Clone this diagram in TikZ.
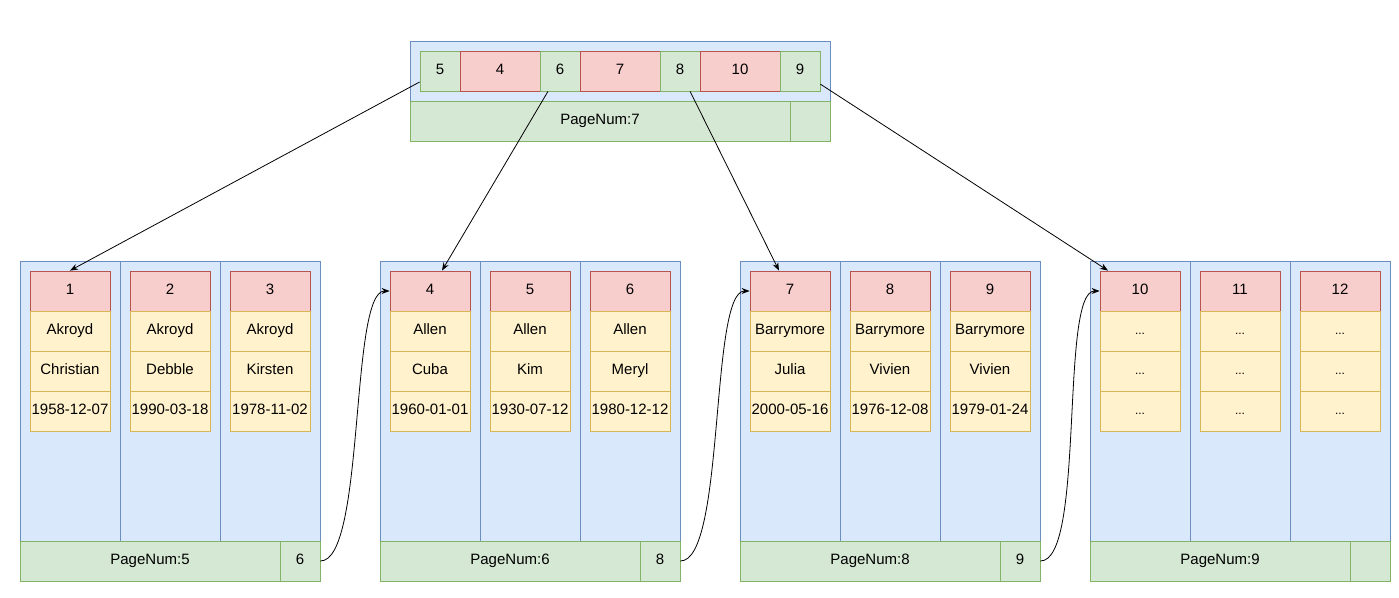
\documentclass[tikz,border=0pt]{standalone}
\usepackage{fontspec}
\setmainfont{Liberation Sans}
\usepackage{xcolor}
\usepackage{tikz}
\usetikzlibrary{arrows.meta}

\definecolor{bluefill}{HTML}{DAE8FC}
\definecolor{blueline}{HTML}{6C8EBF}
\definecolor{redfill}{HTML}{F8CECC}
\definecolor{redline}{HTML}{B85450}
\definecolor{yellowfill}{HTML}{FFF2CC}
\definecolor{yellowline}{HTML}{D6B656}
\definecolor{greenfill}{HTML}{D5E8D4}
\definecolor{greenline}{HTML}{82B366}

\tikzset{
  cell/.style={line width=0.8pt, inner sep=0pt, text height=0.8em, text depth=0.08em},
  colbox/.style={cell, draw=blueline, fill=bluefill, minimum width=100pt, minimum height=280pt},
  topbox/.style={cell, draw=blueline, fill=bluefill, minimum width=420pt, minimum height=60pt},
  keycell/.style={cell, draw=redline, fill=redfill, minimum width=80pt, minimum height=40pt},
  datacell/.style={cell, draw=yellowline, fill=yellowfill, minimum width=80pt, minimum height=40pt},
  numcell/.style={cell, draw=greenline, fill=greenfill, minimum width=40pt, minimum height=40pt},
  dots/.style={datacell, font=\fontsize{12}{14}\selectfont},
  link/.style={line width=0.8pt, -{Stealth[length=8pt,width=6pt]}}
}

\begin{document}
\begin{tikzpicture}[x=1pt, y=-1pt, font=\fontsize{15}{18}\selectfont]
  \useasboundingbox (0,0) rectangle (1399,597);

  % Root page
  \node[topbox] (top) at (620,71) {};
  \node[numcell] (t5) at (440,71) {5};
  \node[keycell] (t4) at (500,71) {4};
  \node[numcell] (t6) at (560,71) {6};
  \node[keycell] (t7) at (620,71) {7};
  \node[numcell] (t8) at (680,71) {8};
  \node[keycell] (t10) at (740,71) {10};
  \node[numcell] (t9) at (800,71) {9};
  \node[numcell, minimum width=380pt] (tnum) at (600,121) {PageNum:7};
  \node[numcell] (tnext) at (810,121) {};

  % Page 5
  \node[colbox] (p5col1) at (70,401) {};
  \node[colbox] (p5col2) at (170,401) {};
  \node[colbox] (p5col3) at (270,401) {};
  \node[keycell] (p5k1) at (70,291) {1};
  \node[datacell] (p5a1) at (70,331) {Akroyd};
  \node[datacell] (p5b1) at (70,371) {Christian};
  \node[datacell] (p5c1) at (70,411) {1958-12-07};
  \node[keycell] (p5k2) at (170,291) {2};
  \node[datacell] (p5a2) at (170,331) {Akroyd};
  \node[datacell] (p5b2) at (170,371) {Debble};
  \node[datacell] (p5c2) at (170,411) {1990-03-18};
  \node[keycell] (p5k3) at (270,291) {3};
  \node[datacell] (p5a3) at (270,331) {Akroyd};
  \node[datacell] (p5b3) at (270,371) {Kirsten};
  \node[datacell] (p5c3) at (270,411) {1978-11-02};
  \node[numcell, minimum width=260pt] (p5num) at (150,561) {PageNum:5};
  \node[numcell] (p5next) at (300,561) {6};

  % Page 6
  \node[colbox] (p6col1) at (430,401) {};
  \node[colbox] (p6col2) at (530,401) {};
  \node[colbox] (p6col3) at (630,401) {};
  \node[keycell] (p6k1) at (430,291) {4};
  \node[datacell] (p6a1) at (430,331) {Allen};
  \node[datacell] (p6b1) at (430,371) {Cuba};
  \node[datacell] (p6c1) at (430,411) {1960-01-01};
  \node[keycell] (p6k2) at (530,291) {5};
  \node[datacell] (p6a2) at (530,331) {Allen};
  \node[datacell] (p6b2) at (530,371) {Kim};
  \node[datacell] (p6c2) at (530,411) {1930-07-12};
  \node[keycell] (p6k3) at (630,291) {6};
  \node[datacell] (p6a3) at (630,331) {Allen};
  \node[datacell] (p6b3) at (630,371) {Meryl};
  \node[datacell] (p6c3) at (630,411) {1980-12-12};
  \node[numcell, minimum width=260pt] (p6num) at (510,561) {PageNum:6};
  \node[numcell] (p6next) at (660,561) {8};

  % Page 8
  \node[colbox] (p8col1) at (790,401) {};
  \node[colbox] (p8col2) at (890,401) {};
  \node[colbox] (p8col3) at (990,401) {};
  \node[keycell] (p8k1) at (790,291) {7};
  \node[datacell] (p8a1) at (790,331) {Barrymore};
  \node[datacell] (p8b1) at (790,371) {Julia};
  \node[datacell] (p8c1) at (790,411) {2000-05-16};
  \node[keycell] (p8k2) at (890,291) {8};
  \node[datacell] (p8a2) at (890,331) {Barrymore};
  \node[datacell] (p8b2) at (890,371) {Vivien};
  \node[datacell] (p8c2) at (890,411) {1976-12-08};
  \node[keycell] (p8k3) at (990,291) {9};
  \node[datacell] (p8a3) at (990,331) {Barrymore};
  \node[datacell] (p8b3) at (990,371) {Vivien};
  \node[datacell] (p8c3) at (990,411) {1979-01-24};
  \node[numcell, minimum width=260pt] (p8num) at (870,561) {PageNum:8};
  \node[numcell] (p8next) at (1020,561) {9};

  % Page 9
  \node[colbox] (p9col1) at (1140,401) {};
  \node[colbox] (p9col2) at (1240,401) {};
  \node[colbox] (p9col3) at (1340,401) {};
  \node[keycell] (p9k1) at (1140,291) {10};
  \node[dots] (p9a1) at (1140,331) {...};
  \node[dots] (p9b1) at (1140,371) {...};
  \node[dots] (p9c1) at (1140,411) {...};
  \node[keycell] (p9k2) at (1240,291) {11};
  \node[dots] (p9a2) at (1240,331) {...};
  \node[dots] (p9b2) at (1240,371) {...};
  \node[dots] (p9c2) at (1240,411) {...};
  \node[keycell] (p9k3) at (1340,291) {12};
  \node[dots] (p9a3) at (1340,331) {...};
  \node[dots] (p9b3) at (1340,371) {...};
  \node[dots] (p9c3) at (1340,411) {...};
  \node[numcell, minimum width=260pt] (p9num) at (1220,561) {PageNum:9};
  \node[numcell] (p9next) at (1370,561) {};

  % Root pointers
  \draw[link] (t5) -- (p5k1.north);
  \draw[link] (t6) -- ([xshift=12pt]p6k1.north);
  \draw[link] (t8) -- ([xshift=-11pt]p8k1.north);
  \draw[link] (t9) -- ([xshift=-32pt]p9k1.north);

  % Next page pointers
  \draw[link] (p5next.east) .. controls +(45,0) and +(-40,0) .. (p6k1.west);
  \draw[link] (p6next.east) .. controls +(45,0) and +(-40,0) .. (p8k1.west);
  \draw[link] (p8next.east) .. controls +(45,0) and +(-40,0) .. (p9k1.west);
\end{tikzpicture}
\end{document}
